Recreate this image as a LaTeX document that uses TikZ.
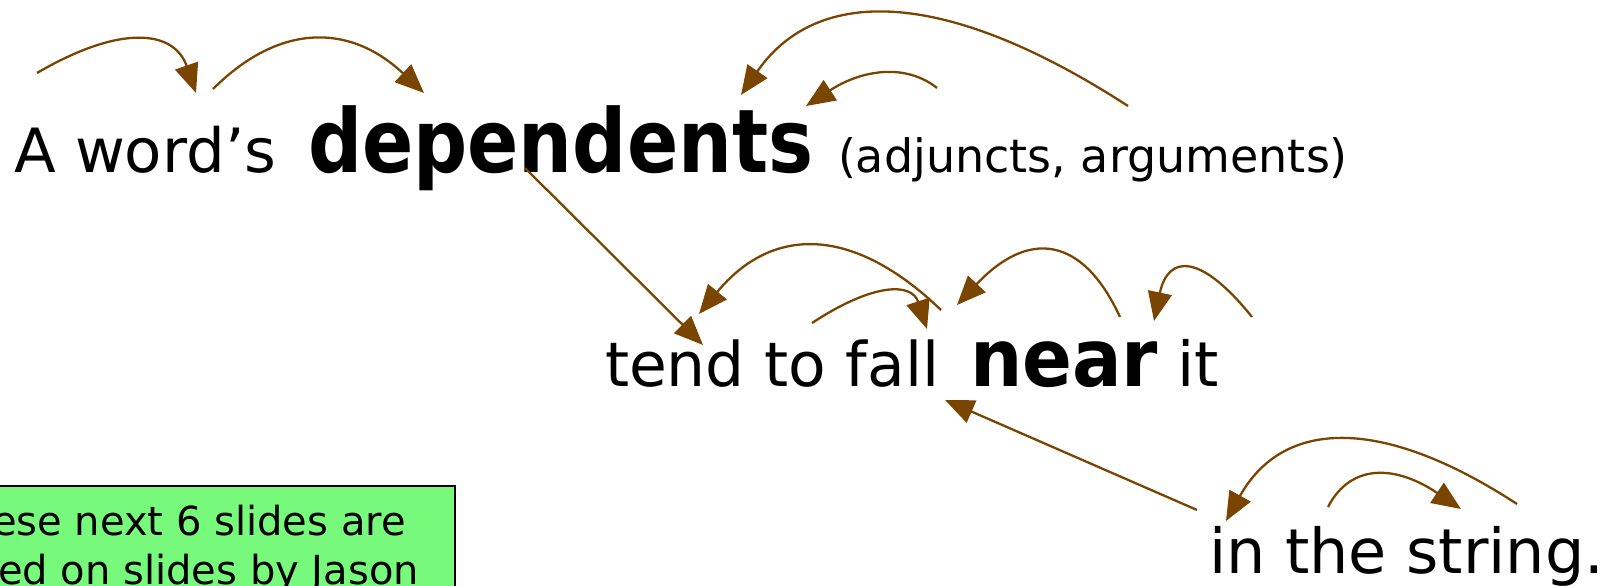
\documentclass[tikz,border=0pt]{standalone}
\usepackage{fontspec}
\usepackage{graphicx}
\setmainfont{DejaVu Sans}
\usetikzlibrary{arrows.meta}

\definecolor{deparc}{RGB}{122,69,0}
\definecolor{notegreen}{RGB}{119,250,123}

\tikzset{
  word/.style={anchor=base west, inner sep=0pt, outer sep=0pt, text=black},
  dep/.style={draw=deparc, line width=2.3pt,
    -{Triangle[length=29pt,width=24pt]}, fill=none}
}
\newcommand{\wsize}[1]{\fontsize{#1}{#1}\selectfont}

\begin{document}
\begin{tikzpicture}[x=1pt,y=-1pt]
  \useasboundingbox (0,0) rectangle (1615,586);
  \clip (0,0) rectangle (1615,586);

  % ---- line 1
  \node[word] (aword) at (14,172) {\wsize{61}A word’s};
  \node[word] (deps) at (308,172)
    {\scalebox{0.86}[1]{\wsize{88}\bfseries dependents}};
  \node[word] (paren) at (838,172) {\wsize{46}(adjuncts, arguments)};

  % ---- line 2
  \node[word] (tend) at (605,386) {\wsize{61.5}tend to fall};
  \node[word] (near) at (970,386)
    {\scalebox{0.92}[1]{\wsize{80}\bfseries near}};
  \node[word] (it) at (1177,386) {\wsize{62}it};

  % ---- line 3
  \node[word] (instr) at (1209,573) {\wsize{62}in the string.};

  % ---- note box (partly off the page)
  \node[draw=black, line width=2pt, fill=notegreen, inner sep=0pt,
        minimum width=476pt, minimum height=140pt, anchor=north east]
        (note) at (456,485) {};
  \node[anchor=base east, inner sep=0pt] (note1) at (406,535)
    {\wsize{40}ese next 6 slides are};
  \node[anchor=base east, inner sep=0pt] (note2) at (419,584)
    {\wsize{40}ed on slides by Jason};

  % ---- arc end points
  \coordinate (a1s) at (37,73);     \coordinate (a1e) at (196,93);
  \coordinate (a2s) at (213,89);    \coordinate (a2e) at (424,93);
  \coordinate (b1s) at (1128,106);  \coordinate (b1e) at (741,95);
  \coordinate (b2s) at (937,88);    \coordinate (b2e) at (806,106);
  \coordinate (ds)  at (525,168);   \coordinate (de)  at (703,345);
  \coordinate (c1s) at (941,310);   \coordinate (c1e) at (699,314);
  \coordinate (c2s) at (812,323);   \coordinate (c2e) at (927,329);
  \coordinate (c3s) at (1120,317);  \coordinate (c3e) at (957,305);
  \coordinate (c4s) at (1252,317);  \coordinate (c4e) at (1154,321);
  \coordinate (fs)  at (1197,510);  \coordinate (fe)  at (945,400);
  \coordinate (g1s) at (1517,504);  \coordinate (g1e) at (1226,521);
  \coordinate (g2s) at (1328,507);  \coordinate (g2e) at (1461,509);

  % ---- dependency arcs
  \draw[dep] (a1s) .. controls (121.3,23.7) and (174.3,30.3) .. (a1e);
  \draw[dep] (a2s) .. controls (280,22.3) and (350.3,23.7) .. (a2e);
  \draw[dep] (b1s) .. controls (946.3,-11.7) and (817.3,-15.3) .. (b1e);
  \draw[dep] (b2s) .. controls (906,63.3) and (862.3,69.3) .. (b2e);
  \draw[dep] (ds) -- (de);
  \draw[dep] (c1s) .. controls (852.3,224.7) and (771.7,226) .. (c1e);
  \draw[dep] (c2s) .. controls (875,281.7) and (912,283) .. (c2e);
  \draw[dep] (c3s) .. controls (1081.7,234.3) and (1027.3,230.3) .. (c3e);
  \draw[dep] (c4s) .. controls (1200.7,253) and (1168,254.3) .. (c4e);
  \draw[dep] (fs) -- (fe);
  \draw[dep] (g1s) .. controls (1379.3,414.3) and (1282.3,420) .. (g1e);
  \draw[dep] (g2s) .. controls (1350.3,463.7) and (1394.7,464.3) .. (g2e);
\end{tikzpicture}
\end{document}
